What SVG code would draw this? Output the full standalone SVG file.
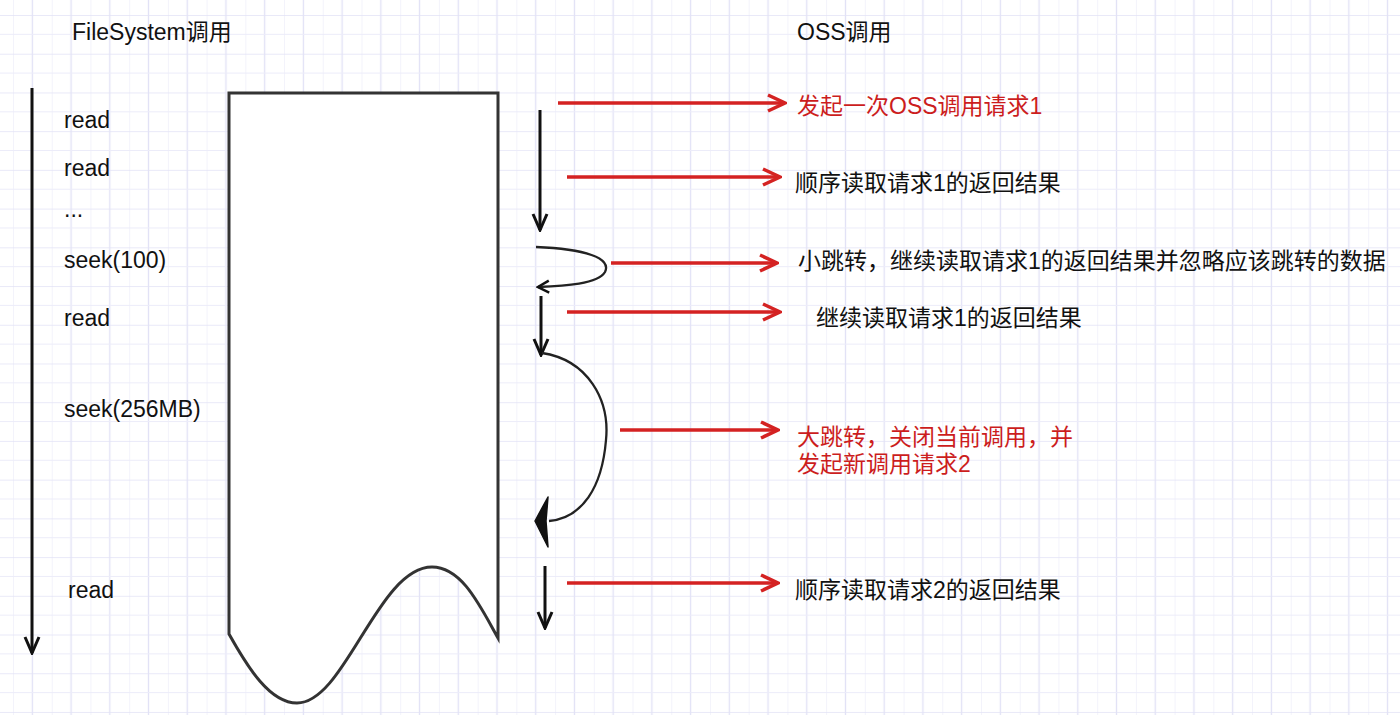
<svg xmlns="http://www.w3.org/2000/svg" width="1400" height="715" viewBox="0 0 1400 715">
  <defs>
    <pattern id="grid" patternUnits="userSpaceOnUse" x="13" y="15" width="38.72" height="38.72">
      <rect width="38.72" height="38.72" fill="#ffffff"/>
      <line x1="19.36" y1="0" x2="19.36" y2="38.72" stroke="#e2e2f6" stroke-width="1.3"/>
      <line x1="0" y1="0" x2="0" y2="38.72" stroke="#ececf9" stroke-width="1.2"/>
      <line x1="0" y1="0" x2="38.72" y2="0" stroke="#e2e2f6" stroke-width="1.3"/>
      <line x1="0" y1="19.36" x2="38.72" y2="19.36" stroke="#ececf9" stroke-width="1.2"/>
    </pattern>
    <marker id="redHead" viewBox="0 0 20 20" refX="18" refY="10" markerWidth="20" markerHeight="20" markerUnits="userSpaceOnUse" orient="auto">
      <path d="M1,2 L18,10 L1,18" fill="none" stroke="#d42222" stroke-width="3.5" stroke-linejoin="miter"/>
    </marker>
    <marker id="blackHead" viewBox="0 0 20 20" refX="18" refY="10" markerWidth="20" markerHeight="20" markerUnits="userSpaceOnUse" orient="auto">
      <path d="M2,3 L18,10 L2,17" fill="none" stroke="#111" stroke-width="3" stroke-linejoin="miter"/>
    </marker>
    <marker id="smallHead" viewBox="0 0 16 16" refX="14" refY="8" markerWidth="16" markerHeight="16" markerUnits="userSpaceOnUse" orient="auto">
      <path d="M3,2 L14,8 L3,14" fill="none" stroke="#111" stroke-width="2.5"/>
    </marker>
    <style>
      .lbl { font-family: "Liberation Sans", "Noto Sans CJK SC", sans-serif; font-size: 23px; fill: #111; }
      .red { fill: #cc1d1d; }
      .redline { stroke: #d42222; stroke-width: 3.5; fill: none; marker-end: url(#redHead); }
      .blk { stroke: #111; stroke-width: 3; fill: none; marker-end: url(#blackHead); }
      .curve { stroke: #222; stroke-width: 2.3; fill: none; }
    </style>
  </defs>

  <rect x="0" y="0" width="1400" height="715" fill="url(#grid)"/>

  <g id="title-fs"><text class="lbl" x="72" y="40">FileSystem调用</text></g>
  <g id="title-oss"><text class="lbl" x="797" y="40">OSS调用</text></g>

  <g id="document">
    <path d="M229,634 V93 H498 V638 C480,606 462,567 432,567 C378,567 345,703 297,703 C270,703 248,668 229,634 Z" fill="#ffffff" stroke="#333" stroke-width="3" stroke-linejoin="miter"/>
  </g>

  <g id="fs-labels">
    <text class="lbl" x="64" y="128">read</text>
    <text class="lbl" x="64" y="176">read</text>
    <text class="lbl" x="64" y="217">...</text>
    <text class="lbl" x="64" y="268">seek(100)</text>
    <text class="lbl" x="64" y="326">read</text>
    <text class="lbl" x="64" y="417">seek(256MB)</text>
    <text class="lbl" x="68" y="598">read</text>
  </g>

  <g id="oss-labels">
    <text class="lbl red" x="797" y="114">发起一次OSS调用请求1</text>
    <text class="lbl" x="795" y="191">顺序读取请求1的返回结果</text>
    <text class="lbl" x="798" y="269">小跳转，继续读取请求1的返回结果并忽略应该跳转的数据</text>
    <text class="lbl" x="816" y="326">继续读取请求1的返回结果</text>
    <text class="lbl red" x="797" y="445">大跳转，关闭当前调用，并</text>
    <text class="lbl red" x="797" y="472">发起新调用请求2</text>
    <text class="lbl" x="795" y="598">顺序读取请求2的返回结果</text>
  </g>

  <g id="connectors">
    <line class="blk" x1="32" y1="88" x2="32" y2="653"/>

    <line class="blk" x1="540" y1="110" x2="540" y2="230"/>
    <path class="curve" d="M536,247 C585,249 612,258 605,272 C598,284 565,286 538,287" marker-end="url(#smallHead)"/>
    <line class="blk" x1="541" y1="296" x2="541" y2="355"/>
    <path class="curve" d="M542,353 C588,360 610,400 606,440 C602,488 582,518 549,521"/>
    <polygon points="535,521 548,497 546,521 548,547" fill="#111" stroke="#111" stroke-width="1.5" stroke-linejoin="round"/>
    <line class="blk" x1="545" y1="566" x2="545" y2="628"/>

    <line class="redline" x1="558" y1="103" x2="785" y2="103"/>
    <line class="redline" x1="567" y1="177" x2="780" y2="177"/>
    <line class="redline" x1="611" y1="263" x2="777" y2="263"/>
    <line class="redline" x1="567" y1="312" x2="780" y2="312"/>
    <line class="redline" x1="620" y1="430" x2="778" y2="430"/>
    <line class="redline" x1="567" y1="583" x2="778" y2="583"/>
  </g>
</svg>
